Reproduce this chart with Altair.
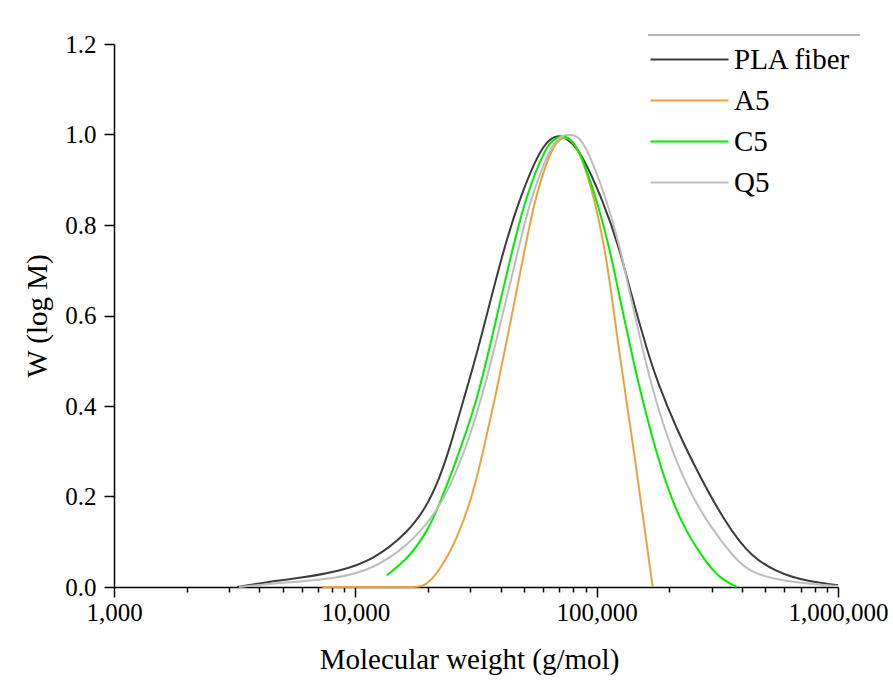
import altair as alt
import pandas as pd

# ---- data (M in g/mol, W = normalised W(log M)) ----
series_names = ["PLA fiber", "A5", "C5", "Q5"]
series_colors = ["#3c3c3c", "#E8A33A", "#00EE00", "#BDBDBD"]

pla_M = [3236, 4306, 5902, 8645, 11880, 16330, 19760, 22440, 24450, 28040, 32230, 40930,
         47690, 55590, 62000, 68530, 76000, 85310, 106300, 125000, 137500, 161800, 177500,
         214800, 268400, 335000, 432500, 633700, 1000000]
pla_W = [0.0, 0.011, 0.020, 0.035, 0.060, 0.118, 0.177, 0.244, 0.302, 0.413, 0.523, 0.744,
         0.854, 0.943, 0.985, 1.0, 0.99, 0.965, 0.854, 0.744, 0.656, 0.523, 0.457,
         0.347, 0.243, 0.150, 0.064, 0.018, 0.004]

a5_M = [7300, 15000, 17500, 19450, 22440, 26330, 30830, 33900, 37770, 41700, 50500, 55060,
        62260, 68000, 75400, 85310, 98440, 108300, 114600, 123800, 129100, 141900, 156100,
        170700]
a5_W = [0.0, 0.0, 0.0, 0.0, 0.038, 0.104, 0.207, 0.302, 0.413, 0.523, 0.750, 0.850,
        0.943, 0.985, 1.0, 0.965, 0.854, 0.744, 0.656, 0.523, 0.457, 0.310, 0.148,
        0.0]

c5_M = [13490, 16330, 19760, 22440, 27160, 31900, 35810, 44600, 50500, 58230, 64000, 71920,
        78000, 85310, 100400, 113700, 122700, 138900, 147900, 166400, 195100, 228700,
        268400, 314500, 380700]
c5_W = [0.026, 0.060, 0.119, 0.185, 0.302, 0.413, 0.523, 0.744, 0.854, 0.943, 0.985, 1.0,
        0.99, 0.965, 0.854, 0.744, 0.656, 0.523, 0.457, 0.347, 0.221, 0.133,
        0.074, 0.023, 0.0]

q5_M = [3300, 4874, 8645, 11880, 16330, 21050, 24680, 28500, 33200, 37570, 47220, 52970,
        61080, 67000, 72590, 83750, 92090, 110400, 126000, 136000, 155600, 166400, 195100,
        236200, 295100, 368600, 432500, 633700, 1000000]
q5_W = [0.0, 0.009, 0.019, 0.041, 0.089, 0.155, 0.222, 0.302, 0.413, 0.523, 0.744, 0.854,
        0.943, 0.985, 1.0, 1.0, 0.965, 0.854, 0.744, 0.656, 0.523, 0.457, 0.332,
        0.221, 0.133, 0.067, 0.030, 0.010, 0.002]

x_major = [1000, 10000, 100000, 1000000]
x_minor = [2000, 3000, 4000, 5000, 6000, 7000, 8000, 9000,
           20000, 30000, 40000, 50000, 60000, 70000, 80000, 90000,
           200000, 300000, 400000, 500000, 600000, 700000, 800000, 900000]
y_ticks = [0.0, 0.2, 0.4, 0.6, 0.8, 1.0, 1.2]

rows = []
for k, (name, Ms, Ws) in enumerate(zip(series_names, [pla_M, a5_M, c5_M, q5_M],
                                       [pla_W, a5_W, c5_W, q5_W])):
    for m, w in zip(Ms, Ws):
        rows.append({"series": name, "M": m, "W": w, "k": k})
df = pd.DataFrame(rows)

FONT = "Liberation Serif"
x_scale = alt.Scale(type="log", domain=[1000, 1000000], nice=False)
y_scale = alt.Scale(domain=[0, 1.2], nice=False)

lines = alt.Chart(df).mark_line(strokeWidth=2, interpolate="basis").encode(
    x=alt.X("M:Q", scale=x_scale,
            axis=alt.Axis(values=x_major, format=",", title="Molecular weight (g/mol)",
                          orient="bottom", tickSize=10, labelPadding=3, titlePadding=20,
                          grid=False, labelFontSize=25, titleFontSize=29, titleX=355,
                          labelFlush=False, labelOverlap=False)),
    y=alt.Y("W:Q", scale=y_scale,
            axis=alt.Axis(values=y_ticks, format=".1f", title="W (log M)", tickSize=10,
                          labelPadding=8, titlePadding=12, grid=False,
                          labelFontSize=25, titleFontSize=29, labelFlush=False)),
    color=alt.Color("series:N",
                    scale=alt.Scale(domain=series_names, range=series_colors),
                    legend=alt.Legend(title=None, orient="none", legendX=561, legendY=1,
                                      symbolType="M-6,0H6", symbolSize=169,
                                      symbolStrokeWidth=2, labelFont=FONT,
                                      labelFontSize=29, labelColor="black",
                                      labelOffset=30, rowPadding=11, labelLimit=300,
                                      padding=0)),
    order=alt.Order("k:Q"),
)

minor = alt.Chart(df).mark_point(opacity=0).encode(
    x=alt.X("M:Q", scale=x_scale,
            axis=alt.Axis(values=x_minor, labels=False, title=None, orient="bottom",
                          tickSize=5, domain=False, grid=False)),
    y=alt.Y("W:Q", scale=y_scale),
)

top_rule = alt.Chart(pd.DataFrame({"a": [0]})).mark_rule(color="#a0a0a0", strokeWidth=1.5).encode(
    x=alt.value(534), x2=alt.value(746), y=alt.value(-9)
)

chart = alt.layer(lines, minor, top_rule).resolve_axis(x="independent").properties(
    width=724, height=543,
    autosize=alt.AutoSizeParams(type="none"),
    padding={"left": 114, "top": 44, "right": 55, "bottom": 95},
    background="white",
).configure(font=FONT).configure_view(stroke=None).configure_axis(
    labelFont=FONT, titleFont=FONT, labelColor="black", titleColor="black",
    titleFontWeight="normal", domainColor="black", tickColor="black",
    domainWidth=1.5, tickWidth=1.5,
).configure_legend(labelFont=FONT)

chart.save("out.html", embed_options={"renderer": "svg", "actions": False})
